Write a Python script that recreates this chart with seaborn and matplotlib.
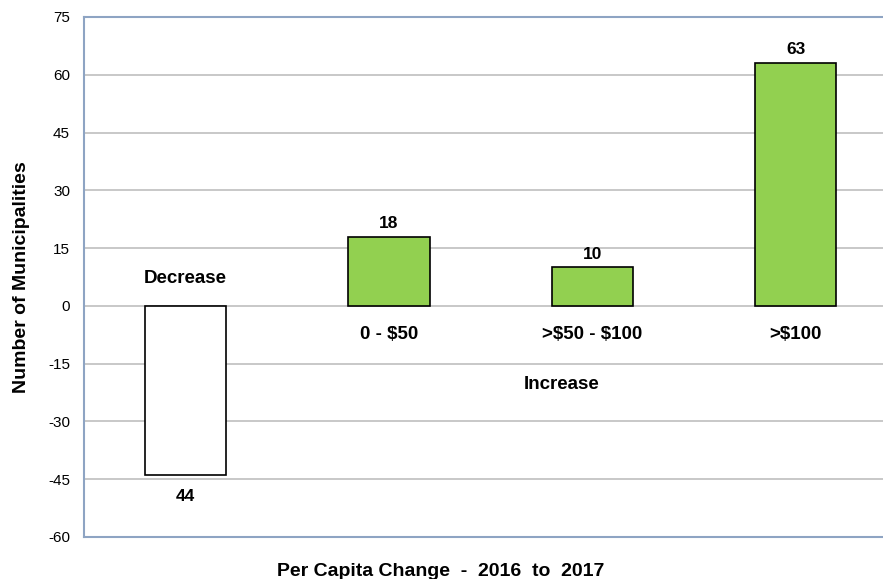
import numpy as np
import pandas as pd
import seaborn as sns
import matplotlib.pyplot as plt

# Data
categories = ["Decrease", "0 - $50", ">$50 - $100", ">$100"]
values = [-44, 18, 10, 63]
bar_colors = ["#FFFFFF", "#92D050", "#92D050", "#92D050"]
yticks = list(range(-60, 76, 15))

df = pd.DataFrame({"Category": categories, "Count": values})

sns.set_style("white")
plt.rcParams["font.family"] = ["Liberation Sans", "DejaVu Sans"]
plt.rcParams["text.parse_math"] = False
plt.rcParams["text.color"] = "black"
plt.rcParams["axes.labelcolor"] = "black"
plt.rcParams["ytick.color"] = "black"

fig = plt.figure(figsize=(8.83, 5.79), dpi=100)
ax = fig.add_axes([84 / 883, 1 - 537 / 579, 799 / 883, 520 / 579])

sns.barplot(data=df, x="Category", y="Count", hue="Category", palette=bar_colors,
            saturation=1, width=0.4, edgecolor="black", linewidth=1.2,
            legend=False, ax=ax, zorder=3)

ax.set_ylim(-60, 75)
ax.set_xlim(-0.5, 3.43)
ax.set_yticks(yticks)
ax.set_yticklabels([str(t) for t in yticks], fontsize=11)
ax.set_xticks([])
ax.set_xlabel("")
ax.set_ylabel("Number of Municipalities", fontsize=14, fontweight="bold")
ax.yaxis.set_label_coords(-0.068, 0.5)
ax.tick_params(axis="y", length=4, color="#8EA4C3", direction="out", pad=6)

# horizontal gridlines
for t in yticks[1:-1]:
    ax.axhline(t, color="#BFBFBF", linewidth=1.2, zorder=1)

for side in ["left", "top", "bottom"]:
    ax.spines[side].set_color("#8EA4C3")
    ax.spines[side].set_linewidth(1.5)
ax.spines["right"].set_visible(False)

# value labels
for i, v in enumerate(values):
    if v >= 0:
        ax.text(i, v + 1.5, str(v), ha="center", va="bottom", fontsize=12.5, fontweight="bold")
    else:
        ax.text(i, v - 3.5, str(abs(v)), ha="center", va="top", fontsize=12.5, fontweight="bold")

# category labels
ax.text(0, 7, categories[0], ha="center", va="center", fontsize=13.5, fontweight="bold")
for i in range(1, 4):
    ax.text(i, -7.5, categories[i], ha="center", va="center", fontsize=13.5, fontweight="bold")
ax.text(1.85, -20.5, "Increase", ha="center", va="center", fontsize=13.5, fontweight="bold")

fig.text(441 / 883, 1 - 572 / 579, "Per Capita Change  -  2016  to  2017",
         ha="center", va="center", fontsize=14, fontweight="bold")

fig.savefig("out.png", dpi=100)
